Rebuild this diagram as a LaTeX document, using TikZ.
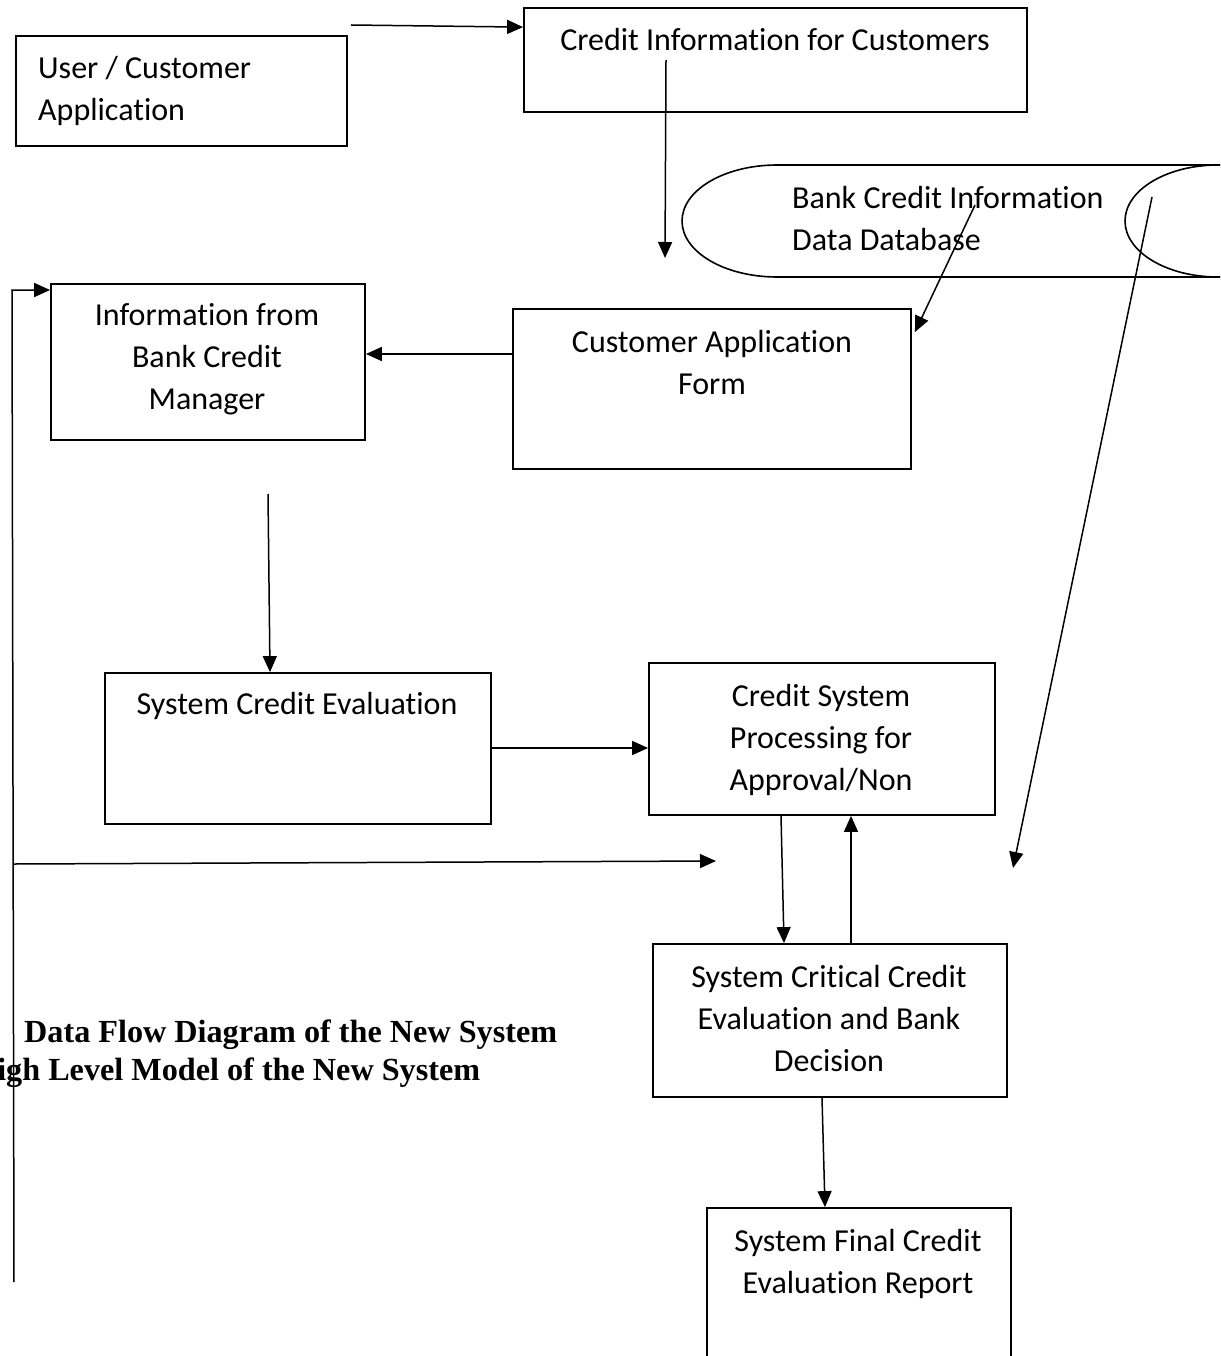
\documentclass[tikz,border=0pt]{standalone}
\usepackage{fontspec}
\setmainfont{Carlito}[Ligatures=NoCommon]
\newfontfamily\titlefont{Liberation Serif}
\usetikzlibrary{arrows.meta,shapes.geometric,calc}

\begin{document}
\begin{tikzpicture}[x=1pt,y=-1pt,
  box/.style={draw, line width=1.8pt, rectangle, inner sep=0pt},
  flow/.style={line width=1.5pt, -{Triangle[length=16pt,width=14pt]}},
  txt/.style={font=\fontsize{32}{42}\selectfont, align=center, inner sep=0pt,
              execute at begin node=\strut},
  ttl/.style={font=\titlefont\bfseries\fontsize{32.2}{38}\selectfont, inner sep=0pt},
]
\useasboundingbox (0,0) rectangle (1220,1356);
\clip (0,0) rectangle (1220,1356);

% process boxes
\node[box, minimum width=331pt, minimum height=110pt] (user)   at (181.5,91)   {};
\node[box, minimum width=503pt, minimum height=104pt] (credit) at (775.5,60)   {};
\node[box, minimum width=314pt, minimum height=156pt] (info)   at (208,362)    {};
\node[box, minimum width=398pt, minimum height=160pt] (cust)   at (712,389)    {};
\node[box, minimum width=386pt, minimum height=151pt] (seval)  at (298,748.5)  {};
\node[box, minimum width=346pt, minimum height=152pt] (proc)   at (822,739)    {};
\node[box, minimum width=354pt, minimum height=153pt] (crit)   at (830,1020.5) {};
\node[box, minimum width=304pt, minimum height=204pt] (final)  at (859,1310)   {};

% data store
\draw[line width=1.6pt] (1230,277) -- (777,277)
  arc[start angle=270, end angle=90, x radius=95pt, y radius=56pt] -- (1230,165);
\node[draw, ellipse, line width=1.6pt, inner sep=0pt,
      minimum width=186pt, minimum height=112pt] (dbE) at (1218,221) {};

% labels
\node[txt, align=left, anchor=north west] (userT)   at (38,55.6)    {User / Customer\\Application};
\node[txt, anchor=north] (creditT) at (775,20.6)  {Credit Information for Customers};
\node[txt, align=left, anchor=north west] (dbT) at (792,185.6) {Bank Credit Information\\Data Database};
\node[txt, anchor=north] (infoT)   at (207,303.6)  {Information from\\Bank Credit\\Manager};
\node[txt, anchor=north] (custT)   at (712,329.6)  {Customer Application\\Form};
\node[txt, anchor=north] (sevalT)  at (297,684.6)  {System Credit Evaluation};
\node[txt, anchor=north] (procT)   at (821,683.6)  {Credit System\\Processing for\\Approval/Non};
\node[txt, anchor=north] (critT)   at (829,964.6)  {System Critical Credit\\Evaluation and Bank\\Decision};
\node[txt, anchor=north] (finalT)  at (858,1228.6) {System Final Credit\\Evaluation Report};

% caption
\node[ttl, anchor=base west] (cap1) at (24,1042)  {Data Flow Diagram of the New System};
\node[ttl, anchor=base west] (cap2) at (-28,1080) {High Level Model of the New System};

% free connector ends
\coordinate (a0) at (351,25);
\coordinate (c1) at (666,60);
\coordinate (c2) at (665,258);
\coordinate (d1) at (975,205);
\coordinate (d2) at (1152,197);
\coordinate (d3) at (1013,868);
\coordinate (m1) at (268,494);
\coordinate (lb) at (14,1282);
\coordinate (lt) at (12,290);
\coordinate (h1) at (14,864);
\coordinate (h2) at (716,861);

% flows
\draw[flow] (a0) -- ([yshift=-20pt]credit.north west);
\draw[flow] (c1) -- (c2);
\draw[flow] (d1) -- ($(cust.north east)+(3,24)$);
\draw[flow] (d2) -- (d3);
\draw[flow] (cust.west |- 0,354) -- (info.east |- 0,354);
\draw[flow] (m1) -- (seval.north -| 270,0);
\draw[flow] (seval.east |- 0,748) -- (proc.west |- 0,748);
\draw[flow] (proc.south -| 781,0) -- (crit.north -| 784,0);
\draw[flow] (crit.north -| 851,0) -- (proc.south -| 851,0);
\draw[flow] (crit.south -| 822,0) -- (final.north -| 825,0);
\draw[flow] (lb) -- (lt) -- (lt -| info.west);
\draw[flow] (h1) -- (h2);
\end{tikzpicture}
\end{document}
